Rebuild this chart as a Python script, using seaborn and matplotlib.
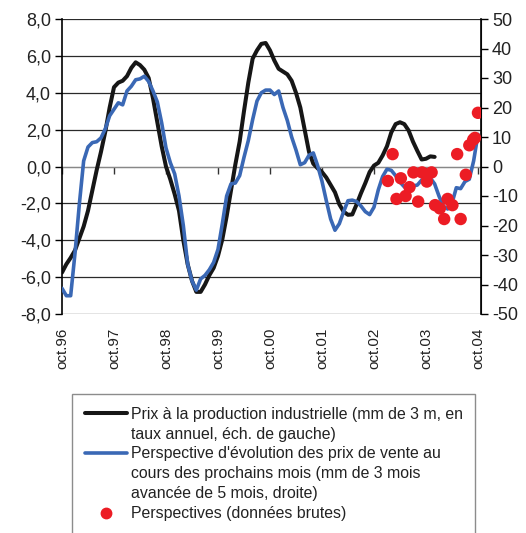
import matplotlib
matplotlib.use("Agg")
import pandas as pd
import matplotlib.pyplot as plt
from matplotlib.lines import Line2D
import seaborn as sns

# axe des x : mois depuis octobre 1996
annees = ["oct.96", "oct.97", "oct.98", "oct.99", "oct.00",
          "oct.01", "oct.02", "oct.03", "oct.04"]
annees_pos = [0, 12, 24, 36, 48, 60, 72, 84, 96]

# prix a la production industrielle (echelle de gauche)
prix_prod = [-5.75, -5.3, -4.95, -4.55, -3.9, -3.25, -2.4, -1.3, -0.2, 0.8,
             1.9, 3.2, 4.3, 4.55, 4.65, 4.9, 5.35, 5.65, 5.5, 5.25,
             4.8, 3.7, 2.4, 1.1, 0.0, -0.7, -1.5, -2.4, -4.0, -5.3,
             -6.2, -6.8, -6.8, -6.4, -5.9, -5.5, -4.85, -3.95, -2.7, -1.3,
             0.1, 1.35, 3.0, 4.55, 5.85, 6.3, 6.65, 6.7, 6.3, 5.75,
             5.3, 5.15, 5.0, 4.65, 4.0, 3.2, 2.0, 0.8, 0.15, -0.1,
             -0.3, -0.6, -1.0, -1.4, -2.05, -2.45, -2.62, -2.6, -2.05, -1.45,
             -0.9, -0.3, 0.05, 0.2, 0.6, 1.1, 1.85, 2.3, 2.4, 2.3,
             1.95, 1.35, 0.85, 0.38, 0.42, 0.55, 0.52]

# perspective d'evolution des prix de vente (echelle de droite)
persp_mm = [-41.3, -43.8, -43.8, -29.4, -12.8, 1.9, 6.6, 8.1, 8.4, 9.7,
            12.8, 17.2, 19.4, 21.6, 20.9, 25.6, 27.2, 29.4, 29.7, 30.6,
            28.8, 25.6, 21.9, 14.8, 6.3, 1.3, -2.5, -10.0, -20.0, -33.1,
            -38.8, -41.9, -38.1, -36.9, -35.0, -32.5, -28.1, -19.4, -10.0, -5.9,
            -5.6, -3.1, 3.1, 8.8, 15.9, 22.2, 25.0, 25.9, 25.9, 24.4,
            25.6, 20.0, 15.6, 10.0, 5.6, 0.6, 1.3, 3.8, 4.6, 0.3,
            -5.0, -11.6, -17.8, -21.6, -19.4, -15.3, -11.6, -11.4, -11.9, -13.4,
            -15.3, -16.3, -13.8, -7.9, -3.4, -0.9, -1.3, -3.1, -5.3, -6.9,
            -6.9, -6.6, -6.3, -4.6, -3.8, -3.9, -5.9, -10.0, -13.4, -14.4,
            -12.5, -7.2, -7.5, -5.1, -4.3, 1.9, 10.9]

# perspectives, donnees brutes (echelle de droite)
brut_mois = [75.2, 76.3, 77.2, 78.2, 79.3, 80.2, 81.1, 82.2, 83.1, 84.2,
             85.3, 86.1, 87.2, 88.2, 89.0, 90.1, 91.2, 92.0, 93.2, 94.0,
             94.9, 95.3, 96.0]
brut_val = [-4.9, 4.2, -11.0, -4.0, -10.0, -7.0, -2.0, -11.9, -2.0, -5.1,
            -2.0, -13.1, -14.2, -17.8, -11.0, -13.1, 4.2, -17.8, -2.8, 7.2,
            9.1, 9.7, 18.2]

noir = "#161616"
bleu = "#3a68b5"
rouge = "#ec1c24"
texte = "#222222"

df_prix = pd.DataFrame({"mois": range(len(prix_prod)), "val": prix_prod})
df_persp = pd.DataFrame({"mois": range(len(persp_mm)), "val": persp_mm})
df_brut = pd.DataFrame({"mois": brut_mois, "val": brut_val})

sns.set_style("white")
plt.rcParams["font.family"] = ["Liberation Sans", "DejaVu Sans"]

fig = plt.figure(figsize=(5.26, 5.33), dpi=100)
ax = fig.add_axes([62 / 526, 1 - 314 / 533, 419 / 526, 295 / 533])
ax2 = ax.twinx()

sns.lineplot(data=df_prix, x="mois", y="val", ax=ax, color=noir, linewidth=2.9)
sns.lineplot(data=df_persp, x="mois", y="val", ax=ax2, color=bleu, linewidth=2.6)
sns.scatterplot(data=df_brut, x="mois", y="val", ax=ax2, color=rouge, s=80,
                edgecolor="none", zorder=5)

# echelle de gauche
ax.set_xlim(0, 96.7)
ax.set_ylim(-8, 8)
yt = [-8, -6, -4, -2, 0, 2, 4, 6, 8]
ax.set_yticks(yt)
ax.set_yticklabels([f"{v:.1f}".replace(".", ",") for v in yt], fontsize=13, color=texte)
ax.yaxis.grid(True, color="#2a2a2a", linewidth=0.9)
ax.xaxis.grid(False)
ax.set_axisbelow(True)
for gl, v in zip(ax.get_ygridlines(), yt):
    if v == 0:
        gl.set_color("#888888")

ax.set_xticks(annees_pos)
ax.set_xticklabels(annees, rotation=90, fontsize=11, color=texte)
ax.tick_params(axis="x", length=0, pad=10)
ax.tick_params(axis="y", direction="out", length=5, width=1, color="black", left=True, pad=3)
ax.set_xlabel("")
ax.set_ylabel("")

# echelle de droite
ax2.set_ylim(-50, 50)
ax2.set_yticks(range(-50, 51, 10))
ax2.set_yticklabels([str(v) for v in range(-50, 51, 10)], fontsize=13, color=texte)
ax2.tick_params(axis="y", direction="out", length=5, width=1, color="black", right=True, pad=3)
ax2.set_ylabel("")
ax2.grid(False)

for a in (ax, ax2):
    a.spines["top"].set_visible(False)
    a.spines["bottom"].set_visible(False)
ax.spines["left"].set_color("black")
ax.spines["left"].set_linewidth(1.2)
ax2.spines["left"].set_visible(False)
ax2.spines["right"].set_visible(True)
ax2.spines["right"].set_color("black")
ax2.spines["right"].set_linewidth(1.2)

# axe des categories qui croise a zero
sec = ax.secondary_xaxis(0.5)
sec.set_alignment("bottom")
sec.set_xticks(annees_pos)
sec.set_xticklabels([])
sec.tick_params(direction="out", length=5, width=1, color="#333333")
sec.spines["bottom"].set_color("#888888")
sec.spines["bottom"].set_linewidth(0.9)

# legende
vide = Line2D([], [], linestyle="none")
handles = [Line2D([], [], color=noir, linewidth=2.9), vide,
           Line2D([], [], color=bleu, linewidth=2.6), vide, vide,
           Line2D([], [], color=rouge, marker="o", linestyle="none", markersize=7.5)]
labels = ["Prix à la production industrielle (mm de 3 m, en",
          "taux annuel, éch. de gauche)",
          "Perspective d'évolution des prix de vente au",
          "cours des prochains mois (mm de 3 mois",
          "avancée de 5 mois, droite)",
          "Perspectives (données brutes)"]
leg = fig.legend(handles, labels, loc="upper left",
                 bbox_to_anchor=(72 / 526, 1 - 394 / 533), fontsize=11.4,
                 frameon=True, fancybox=False, edgecolor="#707070",
                 handlelength=2.7, handletextpad=0.2, labelspacing=0.31,
                 borderpad=0.8, borderaxespad=0)
leg.get_frame().set_linewidth(1.0)
for t in leg.get_texts():
    t.set_color(texte)

fig.savefig("out.png", dpi=100)
